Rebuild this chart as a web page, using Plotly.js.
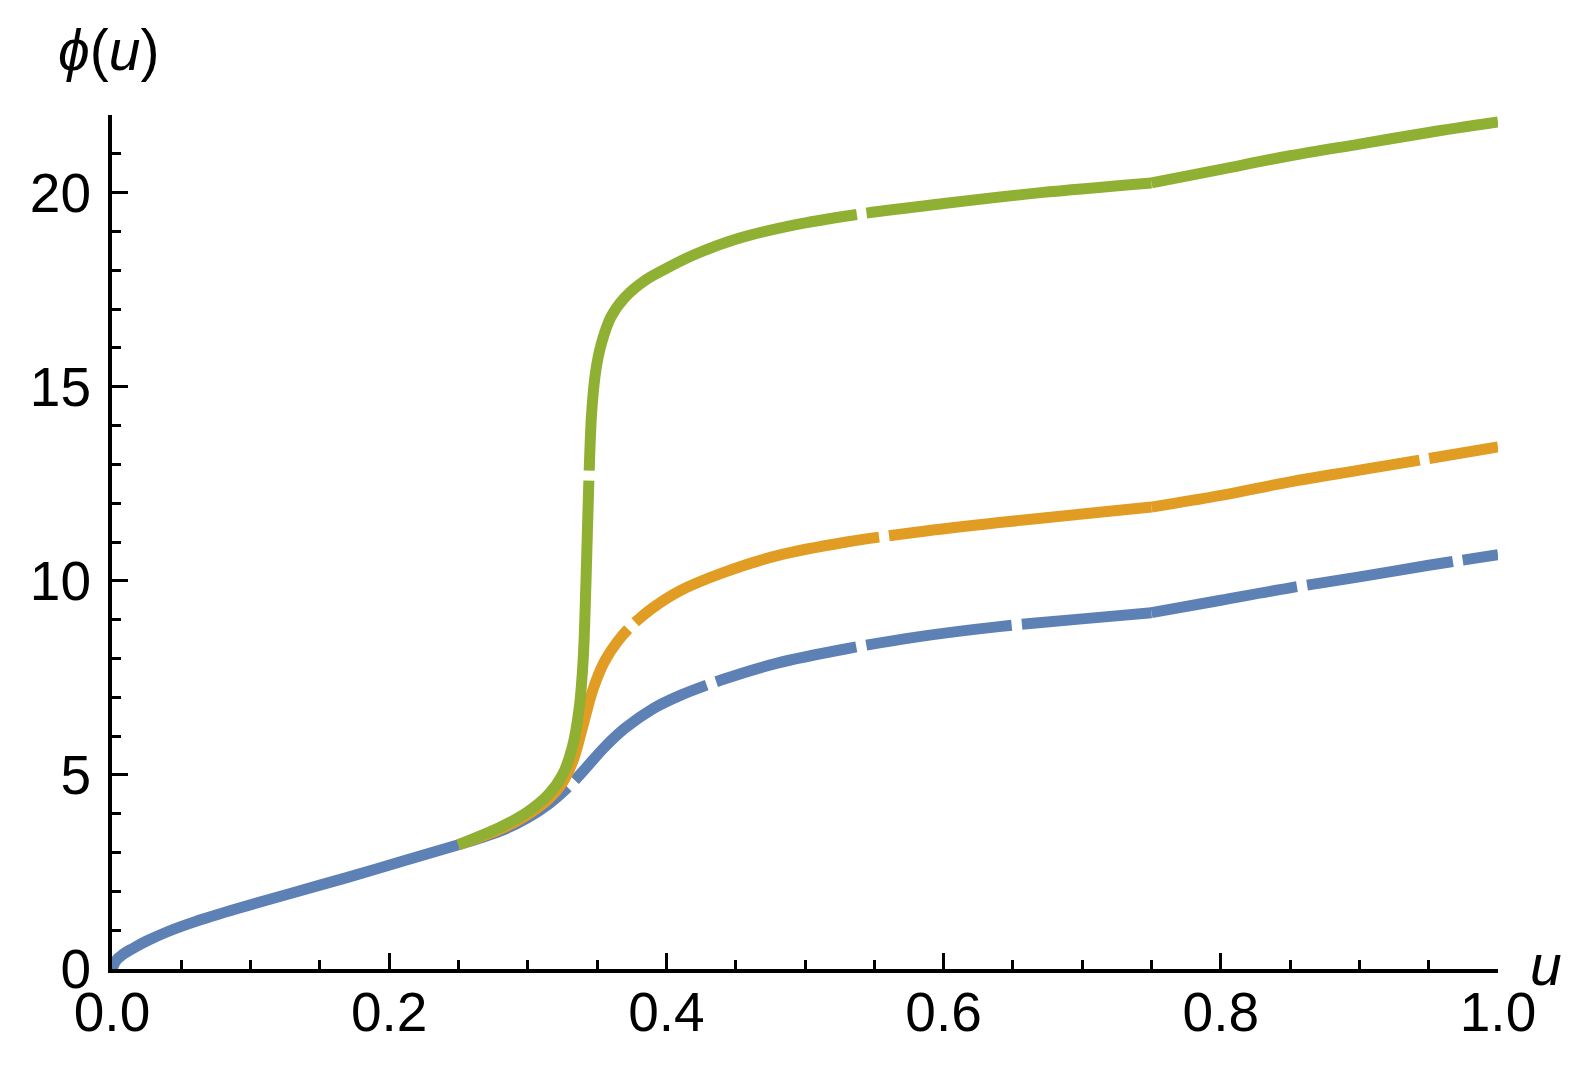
<!DOCTYPE html>
<html>
<head>
<meta charset="utf-8">
<script src="https://cdn.plot.ly/plotly-3.0.1.min.js"></script>
<style>html,body{margin:0;padding:0;background:#fff;}#chart{width:1588px;height:1067px;}</style>
</head>
<body>
<div id="chart"></div>
<script>
// ---- data ----
const uBlue = [0, 0.003, 0.008, 0.015, 0.025, 0.04, 0.06, 0.09, 0.13, 0.17, 0.21, 0.25, 0.28, 0.30, 0.315, 0.328, 0.34, 0.355, 0.37, 0.39, 0.41, 0.44, 0.48, 0.53, 0.58, 0.64, 0.70, 0.75, 0.80, 0.85, 0.90, 0.95, 1.0];
const phiBlue = [0, 0.22, 0.38, 0.53, 0.72, 0.96, 1.22, 1.55, 1.96, 2.36, 2.78, 3.2, 3.55, 3.9, 4.25, 4.65, 5.1, 5.7, 6.2, 6.7, 7.05, 7.45, 7.88, 8.25, 8.55, 8.82, 9.02, 9.18, 9.5, 9.82, 10.1, 10.4, 10.67];

const uOrange = [0.25, 0.28, 0.30, 0.315, 0.325, 0.333, 0.34, 0.347, 0.355, 0.365, 0.375, 0.39, 0.41, 0.44, 0.48, 0.53, 0.58, 0.64, 0.70, 0.75, 0.80, 0.85, 0.90, 0.95, 1.0];
const phiOrange = [3.2, 3.6, 3.98, 4.38, 4.8, 5.4, 6.3, 7.2, 7.9, 8.45, 8.85, 9.3, 9.75, 10.2, 10.65, 11.0, 11.25, 11.5, 11.72, 11.9, 12.2, 12.55, 12.85, 13.15, 13.45];

const uGreen = [0.25, 0.28, 0.30, 0.315, 0.325, 0.332, 0.337, 0.34, 0.342, 0.344, 0.346, 0.349, 0.353, 0.36, 0.37, 0.385, 0.40, 0.42, 0.45, 0.49, 0.54, 0.60, 0.67, 0.75, 0.80, 0.85, 0.90, 0.95, 1.0];
const phiGreen = [3.2, 3.65, 4.05, 4.5, 5.0, 5.7, 6.7, 8.0, 10.0, 12.5, 14.3, 15.4, 16.1, 16.8, 17.3, 17.75, 18.05, 18.4, 18.8, 19.15, 19.45, 19.72, 20.0, 20.25, 20.6, 20.95, 21.25, 21.55, 21.82];

const xTickVals = [0, 0.2, 0.4, 0.6, 0.8, 1.0];
const xTickText = ["0.0", "0.2", "0.4", "0.6", "0.8", "1.0"];
const yTickVals = [0, 5, 10, 15, 20];
const yTickText = ["0", "5", "10", "15", "20"];

// ---- styling ----
const colors = {blue: "#5E81B5", orange: "#E19C24", green: "#8FB032"};
// dash patterns for the middle piece (0.25..0.75) and the last piece (0.75..1)
const dashMid = {
  blue: "125px,10px,165px,10px,145px,10px,147px,10px,148px,10px",
  orange: "292px,10px,262px,10px,272px,10px",
  green: "425px,10px,430px,10px"
};
const dashEnd = {blue: "148px,10px", orange: "272px,10px", green: "425px,10px"};
const LW = 11;
const breaks = [0.25, 0.75];

function segment(u, v, lo, hi) {
  const xs = [], ys = [];
  for (let i = 0; i < u.length; i++) {
    if (u[i] >= lo - 1e-9 && u[i] <= hi + 1e-9) { xs.push(u[i]); ys.push(v[i]); }
  }
  return {xs, ys};
}

const traces = [];
function addSeries(u, v, color, dMid, dEnd) {
  const bounds = [[0, breaks[0]], [breaks[0], breaks[1]], [breaks[1], 1]];
  const dashList = ["solid", dMid, dEnd];
  bounds.forEach((b, k) => {
    const s = segment(u, v, b[0], b[1]);
    if (s.xs.length < 2) return;
    traces.push({
      x: s.xs, y: s.ys, type: "scatter", mode: "lines",
      line: {color: color, width: LW, dash: dashList[k], shape: "spline", smoothing: 0.9},
      hoverinfo: "skip", showlegend: false
    });
  });
}
addSeries(uBlue, phiBlue, colors.blue, dashMid.blue, dashEnd.blue);
addSeries(uOrange, phiOrange, colors.orange, dashMid.orange, dashEnd.orange);
addSeries(uGreen, phiGreen, colors.green, dashMid.green, dashEnd.green);

const FONT = {family: "Liberation Sans, Arial, sans-serif", size: 55, color: "#000"};
const TITLEFONT = {family: "Liberation Sans, Arial, sans-serif", size: 57, color: "#000"};

const layout = {
  width: 1588, height: 1067,
  margin: {l: 112, r: 90, t: 115, b: 98},
  paper_bgcolor: "#fff", plot_bgcolor: "#fff",
  showlegend: false,
  font: FONT,
  xaxis: {
    range: [0, 1], showgrid: false, zeroline: false,
    showline: true, linecolor: "#000", linewidth: 4,
    ticks: "inside", ticklen: 16, tickwidth: 3, tickcolor: "#000",
    tickmode: "array", tickvals: xTickVals, ticktext: xTickText,
    tickfont: FONT, ticklabelstandoff: -8,
    minor: {dtick: 0.05, tick0: 0, ticks: "inside", ticklen: 9, tickwidth: 3, tickcolor: "#000", showgrid: false}
  },
  yaxis: {
    range: [0, 22], showgrid: false, zeroline: false,
    showline: true, linecolor: "#000", linewidth: 4,
    ticks: "inside", ticklen: 16, tickwidth: 3, tickcolor: "#000",
    tickmode: "array", tickvals: yTickVals, ticktext: yTickText,
    tickfont: FONT, ticklabelstandoff: 6,
    minor: {dtick: 1, tick0: 0, ticks: "inside", ticklen: 9, tickwidth: 3, tickcolor: "#000", showgrid: false}
  },
  annotations: [
    {text: "<i>ϕ</i>(<i>u</i>)", xref: "x", yref: "y", x: 0, y: 22, xanchor: "center", yanchor: "middle",
     yshift: 65, xshift: -4, showarrow: false, font: TITLEFONT},
    {text: "<i>u</i>", xref: "x", yref: "y", x: 1, y: 0, xanchor: "center", yanchor: "middle",
     xshift: 48, yshift: 4, showarrow: false, font: TITLEFONT}
  ]
};

Plotly.newPlot("chart", traces, layout, {staticPlot: true, displayModeBar: false});
</script>
</body>
</html>
